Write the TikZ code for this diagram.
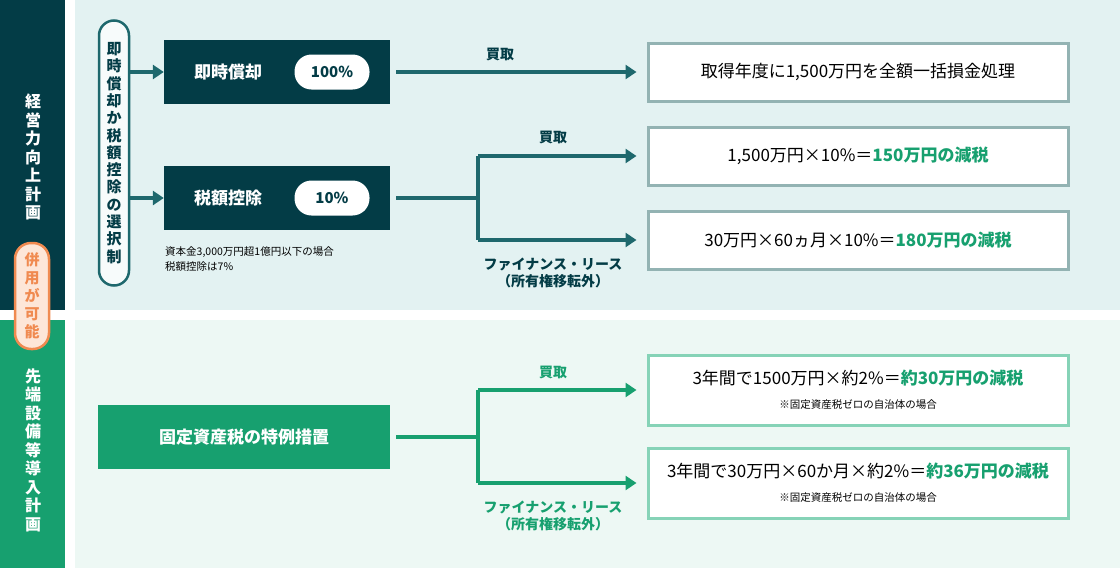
\documentclass[tikz,border=0pt]{standalone}
\usepackage{fontspec}
\setmainfont{Noto Sans CJK JP}
\usetikzlibrary{positioning,arrows.meta}
\definecolor{darkteal}{HTML}{033C46}
\definecolor{lineteal}{HTML}{1E686D}
\definecolor{greenbar}{HTML}{17A06F}
\definecolor{topbg}{HTML}{E3F2F2}
\definecolor{botbg}{HTML}{EDF8F4}
\definecolor{greyborder}{HTML}{93B3B3}
\definecolor{greenborder}{HTML}{86D3B7}
\definecolor{orangeline}{HTML}{F08A50}
\definecolor{orangefill}{HTML}{FDE6D8}
\begin{document}
\begin{tikzpicture}[x=1pt,y=-1pt,
  every node/.style={inner sep=0pt},
  darkbox/.style={fill=darkteal,text=white,font=\fontsize{17}{20}\selectfont\bfseries},
  pctpill/.style={fill=white,rounded corners=17pt,minimum width=75pt,minimum height=35pt,text=darkteal,font=\fontsize{15}{18}\selectfont\bfseries},
  resbox/.style={draw=greyborder,line width=3pt,fill=white,minimum width=420pt,minimum height=58pt,font=\fontsize{17}{20}\selectfont},
  greenres/.style={draw=greenborder,line width=3pt,fill=white,minimum width=420pt,align=center,font=\fontsize{17}{20}\selectfont},
  tealarrow/.style={draw=lineteal,line width=4pt,-{Triangle[length=11pt,width=14pt]}},
  greenarrow/.style={draw=greenbar,line width=4pt,-{Triangle[length=11pt,width=14pt]}},
  arrowlabel/.style={font=\fontsize{14}{17}\selectfont\bfseries,align=center},
  vlabel/.style={align=center,font=\fontsize{16}{18.5}\selectfont\bfseries}]
\useasboundingbox (0,0) rectangle (1120,568);
% backgrounds
\fill[darkteal] (0,0) rectangle (65,310);
\fill[greenbar] (0,320) rectangle (65,568);
\fill[topbg] (75,0) rectangle (1120,310);
\fill[botbg] (75,320) rectangle (1120,568);
\node[vlabel,text=white] (plan1) at (33,157) {経\\営\\力\\向\\上\\計\\画};
\node[vlabel,text=white] (plan2) at (33,450) {先\\端\\設\\備\\等\\導\\入\\計\\画};
\node[draw=orangeline,line width=2.5pt,fill=orangefill,rounded corners=16pt,minimum width=34pt,minimum height=106pt,
  text=orangeline,align=center,font=\fontsize{15}{18}\selectfont\bfseries] (both) at (32,296) {併\\用\\が\\可\\能};
% upper part
\node[draw=lineteal,line width=2.5pt,fill=white!70!topbg,rounded corners=15pt,minimum width=30pt,minimum height=265pt,
  text=darkteal,align=center,font=\fontsize{15}{17.3}\selectfont\bfseries] (choice) at (114,153)
  {即\\時\\償\\却\\か\\税\\額\\控\\除\\の\\選\\択\\制};
\node[darkbox,minimum width=226pt,minimum height=64pt] (instant) at (277,72) {};
\node[text=white,font=\fontsize{17}{20}\selectfont\bfseries] at (228,72) {即時償却};
\node[pctpill] (p100) at (332,72) {100\%};
\node[darkbox,minimum width=226pt,minimum height=64pt] (credit) at (277,198) {};
\node[text=white,font=\fontsize{17}{20}\selectfont\bfseries] at (228,198) {税額控除};
\node[pctpill] (p10) at (332,198) {10\%};
\node[anchor=north west,align=left,font=\fontsize{10.5}{15}\selectfont] (note) at (165,246)
  {資本金3,000万円超1億円以下の場合\\税額控除は7\%};
\draw[tealarrow] (choice.east |- instant) -- (instant.west);
\draw[tealarrow] (choice.east |- credit) -- (credit.west);
\node[resbox] (res1) at (858,72) {取得年度に1,500万円を全額一括損金処理};
\node[resbox] (res2) at (858,156) {1,500万円×10\%＝\textcolor{greenbar}{\bfseries 150万円の減税}};
\node[resbox] (res3) at (858,240) {30万円×60ヵ月×10\%＝\textcolor{greenbar}{\bfseries 180万円の減税}};
\draw[tealarrow] ([xshift=6pt]instant.east) -- ([xshift=-10pt]res1.west);
\node[arrowlabel,text=darkteal] (buy1) at (500,54) {買取};
\coordinate (fork1) at (478,198);
\draw[draw=lineteal,line width=4pt] ([xshift=6pt]credit.east) -- (fork1);
\draw[tealarrow] (fork1 |- res2) -- ([xshift=-10pt]res2.west);
\draw[tealarrow] (fork1 |- res3) -- ([xshift=-10pt]res3.west);
\draw[draw=lineteal,line width=4pt] (fork1 |- res2) -- (fork1 |- res3);
\node[arrowlabel,text=darkteal] (buy2) at (553,137) {買取};
\node[arrowlabel,text=darkteal] (lease1) at (553,273) {ファイナンス・リース\\（所有権移転外）};
% lower part
\node[fill=greenbar,text=white,minimum width=292pt,minimum height=64pt,font=\fontsize{17}{20}\selectfont\bfseries] (special) at (244,437) {固定資産税の特例措置};
\node[greenres,minimum height=70pt] (res4) at (858,390) {3年間で1500万円×約2\%＝\textcolor{greenbar}{\bfseries 約30万円の減税}\\[4pt]{\fontsize{10.5}{13}\selectfont ※固定資産税ゼロの自治体の場合}};
\node[greenres,minimum height=70pt] (res5) at (858,483) {3年間で30万円×60か月×約2\%＝\textcolor{greenbar}{\bfseries 約36万円の減税}\\[4pt]{\fontsize{10.5}{13}\selectfont ※固定資産税ゼロの自治体の場合}};
\coordinate (fork2) at (478,437);
\draw[draw=greenbar,line width=4pt] ([xshift=6pt]special.east) -- (fork2);
\draw[draw=greenbar,line width=4pt] (fork2 |- res4) -- (fork2 |- res5);
\draw[greenarrow] (fork2 |- res4) -- ([xshift=-10pt]res4.west);
\draw[greenarrow] (fork2 |- res5) -- ([xshift=-10pt]res5.west);
\node[arrowlabel,text=greenbar] (buy3) at (553,372) {買取};
\node[arrowlabel,text=greenbar] (lease2) at (553,516) {ファイナンス・リース\\（所有権移転外）};
\end{tikzpicture}
\end{document}
